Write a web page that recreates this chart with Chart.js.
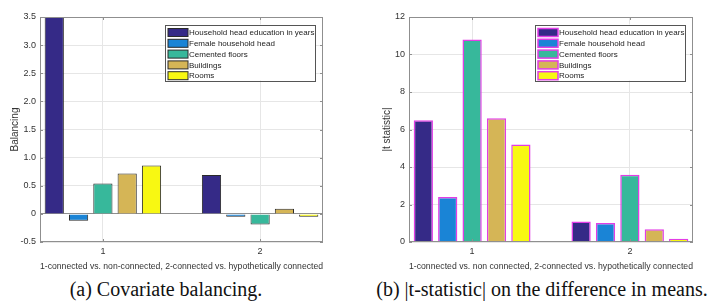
<!DOCTYPE html>
<html>
<head>
<meta charset="utf-8">
<script src="https://cdn.jsdelivr.net/npm/chart.js"></script>
<style>
  body { margin: 0; background: #fff; width: 719px; height: 307px; position: relative; overflow: hidden; }
  .panel { position: absolute; top: 0; height: 275px; }
  .cap { position: absolute; top: 278px; font-family: "Liberation Serif", "Times New Roman", serif;
         font-size: 20px; color: #111; white-space: nowrap; transform: translateX(-50%); }
</style>
</head>
<body>
<div class="panel" style="left:0;width:355px"><canvas id="balance"></canvas></div>
<div class="panel" style="left:360px;width:359px"><canvas id="tstat"></canvas></div>
<div class="cap" style="left:166px">(a) Covariate balancing.</div>
<div class="cap" style="left:542px">(b) |t-statistic| on the difference in means.</div>
<script>
// comparisons on the x axis
const groups = [1, 2];
const seriesNames = ['Household head education in years', 'Female household head',
  'Cemented floors', 'Buildings', 'Rooms'];
const seriesColors = ['#352a87', '#1a84d6', '#37b89b', '#d5b556', '#f8f812'];

// (a) covariate balancing
const eduBal = [3.5, 0.69];
const femaleBal = [-0.12, -0.05];
const floorsBal = [0.54, -0.19];
const buildingsBal = [0.72, 0.09];
const roomsBal = [0.86, -0.05];

// (b) |t statistic|
const eduT = [6.5, 1.09];
const femaleT = [2.4, 1.01];
const floorsT = [10.8, 3.59];
const buildingsT = [6.6, 0.68];
const roomsT = [5.2, 0.18];

const FONT = '"Liberation Sans", Arial, sans-serif';
const GRID = '#e6e6e6';
const AXIS = '#8f8f8f';

function makeSets(lists, edge, edgeWidth) {
  return lists.map((vals, i) => ({
    label: seriesNames[i],
    data: groups.map((g, k) => ({ x: g, y: vals[k] })),
    backgroundColor: seriesColors[i],
    borderColor: edge,
    borderWidth: edgeWidth,
    categoryPercentage: 0.773,
    barPercentage: 0.79
  }));
}

// box round the plot plus the small inward ticks
const frame = {
  id: 'frame',
  afterDatasetsDraw(chart) {
    const { ctx, chartArea: a, scales: { x, y } } = chart;
    ctx.save();
    ctx.strokeStyle = AXIS;
    ctx.lineWidth = 1;
    ctx.strokeRect(a.left + 0.5, a.top + 0.5, a.right - a.left - 1, a.bottom - a.top - 1);
    ctx.beginPath();
    y.ticks.forEach(t => {
      const py = Math.round(y.getPixelForValue(t.value)) + 0.5;
      ctx.moveTo(a.left, py); ctx.lineTo(a.left + 3, py);
      ctx.moveTo(a.right - 3, py); ctx.lineTo(a.right, py);
    });
    x.ticks.forEach(t => {
      const px = Math.round(x.getPixelForValue(t.value)) + 0.5;
      ctx.moveTo(px, a.bottom); ctx.lineTo(px, a.bottom - 3);
      ctx.moveTo(px, a.top); ctx.lineTo(px, a.top + 3);
    });
    ctx.stroke();
    ctx.restore();
  }
};

// legend box in the upper right corner of the plot
const boxLegend = {
  id: 'boxLegend',
  afterDraw(chart) {
    const { ctx, chartArea: a } = chart;
    const w = 150, h = 56, left = a.right - 8 - w, top = a.top + 7.5;
    ctx.save();
    ctx.fillStyle = '#fff';
    ctx.fillRect(left, top, w, h);
    ctx.strokeStyle = '#555';
    ctx.lineWidth = 1;
    ctx.strokeRect(Math.round(left) + 0.5, Math.round(top) + 0.5, w, h);
    ctx.font = '8px ' + FONT;
    ctx.textBaseline = 'middle';
    chart.data.datasets.forEach((ds, i) => {
      const cy = top + 8 + i * 10.8;
      ctx.fillStyle = ds.backgroundColor;
      ctx.fillRect(left + 3, cy - 4, 20, 8);
      ctx.strokeStyle = ds.borderColor;
      ctx.lineWidth = ds.borderWidth;
      ctx.strokeRect(left + 3, cy - 4, 20, 8);
      ctx.fillStyle = '#222';
      ctx.fillText(ds.label, left + 24, cy + 0.5);
    });
    ctx.restore();
  }
};

function makeChart(id, sets, yOpts, yTitle, xTitle, yWidth, titlePad, rightPad, zeroLine) {
  return new Chart(document.getElementById(id), {
    type: 'bar',
    data: { datasets: sets },
    plugins: [frame, boxLegend],
    options: {
      responsive: true,
      maintainAspectRatio: false,
      animation: false,
      layout: { padding: { top: 17, right: rightPad, left: 0, bottom: 0 } },
      plugins: { legend: { display: false }, tooltip: { enabled: false } },
      scales: {
        x: {
          type: 'linear',
          min: 0.6, max: 2.4,
          offset: false,
          afterFit(s) { s.height = 33; },
          ticks: { stepSize: 1, includeBounds: false, maxRotation: 0, padding: 4,
                   color: '#333', font: { family: FONT, size: 9 },
                   callback: v => String(v) },
          grid: { color: GRID, drawTicks: false, offset: false },
          border: { display: false },
          title: { display: true, text: xTitle, color: '#333', padding: { top: 2, bottom: 3 },
                   font: { family: FONT, size: 9 } }
        },
        y: {
          min: yOpts.min, max: yOpts.max,
          afterFit(s) { s.width = yWidth; },
          ticks: { stepSize: yOpts.step, padding: 4, color: '#333', font: { family: FONT, size: 9 } },
          grid: {
            drawTicks: false,
            color: c => (zeroLine && c.tick && c.tick.value === 0) ? AXIS : GRID
          },
          border: { display: false },
          title: { display: true, text: yTitle, color: '#333', padding: { top: titlePad, bottom: 2 },
                   font: { family: FONT, size: 10 } }
        }
      }
    }
  });
}

makeChart('balance',
  makeSets([eduBal, femaleBal, floorsBal, buildingsBal, roomsBal], '#2a2a2a', 1),
  { min: -0.5, max: 3.5, step: 0.5 }, 'Balancing',
  '1-connected vs. non-connected, 2-connected vs. hypothetically connected',
  40, 9, 32, true);

makeChart('tstat',
  makeSets([eduT, femaleT, floorsT, buildingsT, roomsT], '#e23de6', 1.5),
  { min: 0, max: 12, step: 2 }, '|t statistic|',
  '1-connected vs. non connected, 2-connected vs. hypothetically connected',
  49, 21, 26, false);
</script>
</body>
</html>
